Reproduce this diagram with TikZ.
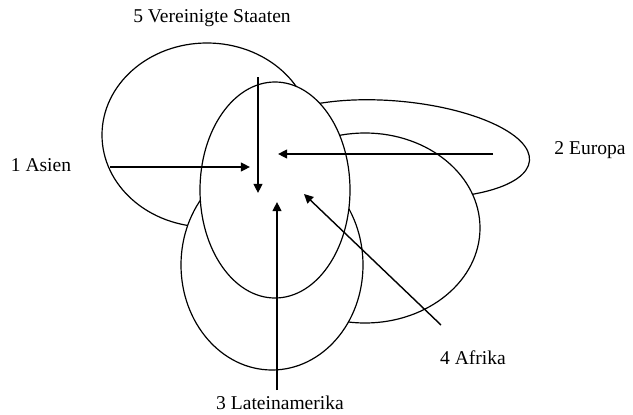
\documentclass[tikz,border=0pt]{standalone}
\usepackage{fontspec}
\setmainfont{Liberation Serif}
\usetikzlibrary{arrows.meta}

\begin{document}
\begin{tikzpicture}[x=0.025cm, y=-0.025cm, font=\fontsize{13.9}{16}\selectfont,
  >={Triangle[length=6.5pt, width=6.3pt]},
  region/.style={draw, line width=0.85pt, fill=white},
  pointer/.style={->, line width=1pt}]
\useasboundingbox (0,0) rectangle (633,415);
% regions, back to front
\draw[region] (207,135) ellipse [x radius=105, y radius=92];  % Asien
\draw[region, rotate around={-5:(395,149)}]
  (395,149) ellipse [x radius=135, y radius=48];              % Europa
\draw[region] (365,228) ellipse [x radius=115, y radius=95];  % Afrika
\draw[region] (272,265) ellipse [x radius=91, y radius=105];  % Lateinamerika
\draw[region] (275,190) ellipse [x radius=75, y radius=108];  % Vereinigte Staaten
% labels
\node (us) at (212,18) {5 Vereinigte Staaten};
\node (as) at (41,165) {1 Asien};
\node (eu) at (590,150) {2 Europa};
\node (af) at (473,358) {4 Afrika};
\node (la) at (280,403) {3 Lateinamerika};
% arrows into the middle
\coordinate (as-a) at (110,167); \coordinate (as-b) at (250,167);
\coordinate (us-a) at (258,77);  \coordinate (us-b) at (258,193);
\coordinate (eu-a) at (493,154); \coordinate (eu-b) at (278,154);
\coordinate (la-a) at (277,390); \coordinate (la-b) at (277,202);
\coordinate (af-a) at (441,325); \coordinate (af-b) at (304,194);
\draw[pointer] (as-a) -- (as-b);
\draw[pointer] (us-a) -- (us-b);
\draw[pointer] (eu-a) -- (eu-b);
\draw[pointer] (la-a) -- (la-b);
\draw[pointer] (af-a) -- (af-b);
\end{tikzpicture}
\end{document}
